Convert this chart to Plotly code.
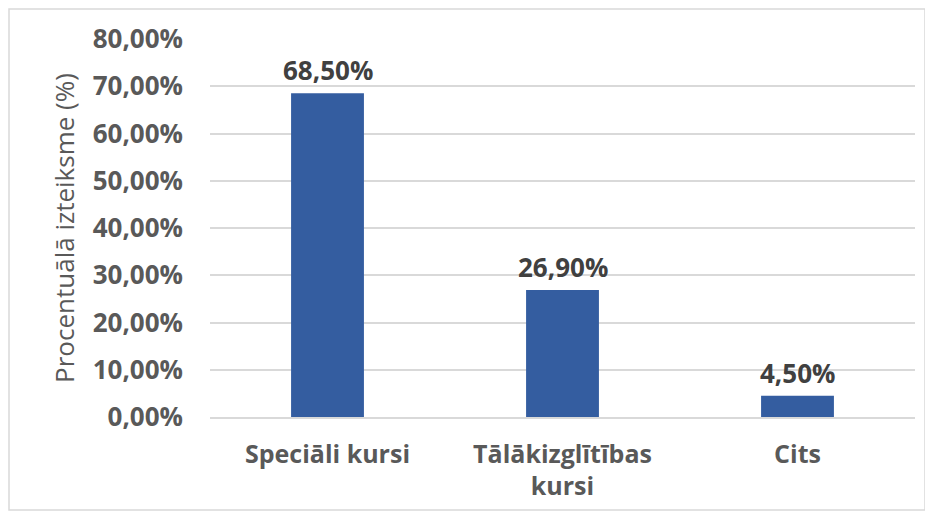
import plotly.graph_objects as go

categories = ["Speciāli kursi", "Tālākizglītības<br>kursi", "Cits"]
values = [68.5, 26.9, 4.5]
labels = ["68,50%", "26,90%", "4,50%"]
tick_vals = [0, 10, 20, 30, 40, 50, 60, 70, 80]
tick_text = ["0,00%", "10,00%", "20,00%", "30,00%", "40,00%", "50,00%", "60,00%", "70,00%", "80,00%"]

FONT = "Open Sans"
OFF = 8  # page offset of the figure inside the window
L, R, T = 210 - OFF, 26, 39 - OFF
W, H = 933, 516
B = H - (417 - OFF)
pw, ph = W - L - R, H - T - B

def px(x):
    return (x - OFF - L) / pw

def py(y):
    return (H - B - (y - OFF)) / ph

fig = go.Figure(go.Bar(
    x=categories, y=values,
    marker=dict(color="#345da0", line=dict(width=0)),
    width=0.31,
))

for c, v, t in zip(categories, values, labels):
    fig.add_annotation(x=c, y=v, text=t, showarrow=False,
                       xanchor="center", yanchor="bottom", yshift=3,
                       font=dict(family=FONT, size=26, color="#404040", weight="bold"))

fig.update_layout(
    width=W, height=H,
    margin=dict(l=L, r=R, t=T, b=B, autoexpand=False),
    paper_bgcolor="white", plot_bgcolor="white",
    showlegend=False,
    xaxis=dict(
        tickfont=dict(family=FONT, size=25, color="#595959", weight="bold"),
        showline=True, linecolor="#d9d9d9", linewidth=1.5,
        ticks="", showgrid=False, ticklabelstandoff=14,
    ),
    yaxis=dict(
        range=[0, 80], tickvals=tick_vals, ticktext=tick_text,
        tickfont=dict(family=FONT, size=26, color="#595959", weight="bold"),
        showgrid=True, gridcolor="#d9d9d9", gridwidth=1.5,
        zeroline=False, ticks="", ticklabelstandoff=26,
        title=dict(text="Procentuālā izteiksme (%)",
                   font=dict(family=FONT, size=26, color="#595959"),
                   standoff=10),
    ),
    shapes=[dict(type="rect", xref="paper", yref="paper",
                 x0=px(9), x1=px(925), y0=py(510), y1=py(9),
                 line=dict(color="#d9d9d9", width=1.5), layer="below")],
)

fig.write_html("out.html")
